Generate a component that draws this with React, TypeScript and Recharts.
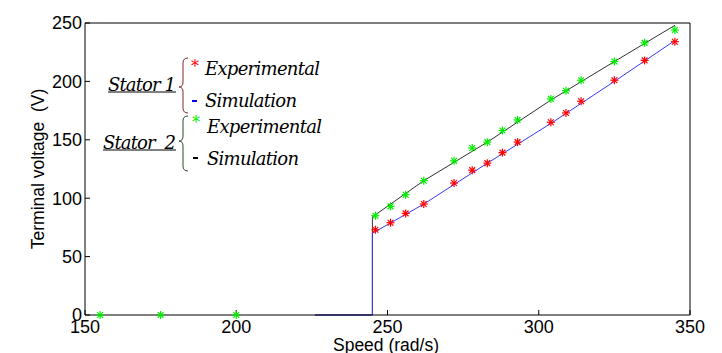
import { LineChart, Line, XAxis, YAxis } from "recharts";

// experimental points (speed in rad/s, terminal voltage in V)
const speedExp = [246, 251, 256, 262, 272, 278, 283, 288, 293, 304, 309, 314, 325, 335, 345];
const stator1Exp = [73, 79, 87, 95, 113, 124, 130, 139, 148, 165, 173, 183, 201, 218, 234];
const stator2Exp = [85, 93, 103, 115, 132, 143, 148, 158, 167, 185, 192, 201, 217, 233, 244];
const speedExpLow = [155, 175, 200];
const stator2ExpLow = [0, 0, 0];

// simulation curves
const speedSim = [226, 245, 245, 262, 283, 304, 325, 345];
const stator1Sim = [0, 0, 70, 95, 130, 164, 200, 235];
const stator2Sim = [0, 0, 84, 115, 148, 184, 217, 248];

const xTicks = [150, 200, 250, 300, 350];
const yTicks = [0, 50, 100, 150, 200, 250];

const zip = (xs: number[], ys: number[]) => xs.map((s, i) => ({ s, v: ys[i] }));

const exp1 = zip(speedExp, stator1Exp);
const exp2 = [...zip(speedExpLow, stator2ExpLow), ...zip(speedExp, stator2Exp)];
const sim1 = zip(speedSim, stator1Sim);
const sim2 = zip(speedSim, stator2Sim);

const SANS = "Liberation Sans, Arial, sans-serif";
const SERIF = "DejaVu Serif, serif";

function Asterisk({ cx, cy, color }: { cx: number; cy: number; color: string }) {
  const r = 4;
  const d = r * 0.72;
  return (
    <g stroke={color} strokeWidth={1.2}>
      <line x1={cx - r} y1={cy} x2={cx + r} y2={cy} />
      <line x1={cx} y1={cy - r} x2={cx} y2={cy + r} />
      <line x1={cx - d} y1={cy - d} x2={cx + d} y2={cy + d} />
      <line x1={cx - d} y1={cy + d} x2={cx + d} y2={cy - d} />
    </g>
  );
}

const starDot = (color: string) => (p: any) =>
  <Asterisk key={`${color}-${p.index}`} cx={p.cx} cy={p.cy} color={color} />;

function Brace({ x, top, mid, bottom, color }: { x: number; top: number; mid: number; bottom: number; color: string }) {
  const d = `M ${x + 5} ${top} Q ${x} ${top} ${x} ${top + 5} L ${x} ${mid - 5} Q ${x} ${mid} ${x - 4} ${mid} Q ${x} ${mid} ${x} ${mid + 5} L ${x} ${bottom - 5} Q ${x} ${bottom} ${x + 5} ${bottom}`;
  return <path d={d} fill="none" stroke={color} strokeWidth={1} />;
}

const legendText = { fontFamily: SERIF, fontStyle: "italic", fontSize: 18, whiteSpace: "pre" } as const;

export default function App() {
  const tickStyle = { fontSize: 18, fill: "#000", fontFamily: SANS };
  return (
    <div style={{ position: "absolute", left: 0, top: 0, width: 722, height: 353, background: "#fff" }}>
      <LineChart width={722} height={353} margin={{ top: 0, right: 0, bottom: 0, left: 0 }}>
        <XAxis
          dataKey="s" type="number" domain={[150, 350]} ticks={xTicks} allowDataOverflow
          height={38} tickSize={-5} tickMargin={10} tick={tickStyle}
          axisLine={{ stroke: "#000" }} tickLine={{ stroke: "#000" }}
        />
        <XAxis
          xAxisId="top" orientation="top" dataKey="s" type="number" domain={[150, 350]} ticks={xTicks}
          height={23} tickSize={-5} tick={false}
          axisLine={{ stroke: "#000" }} tickLine={{ stroke: "#000" }}
        />
        <YAxis
          type="number" domain={[0, 250]} ticks={yTicks} width={85}
          tickSize={-5} tickMargin={8} tick={tickStyle}
          axisLine={{ stroke: "#000" }} tickLine={{ stroke: "#000" }}
        />
        <YAxis
          yAxisId="right" orientation="right" type="number" domain={[0, 250]} ticks={yTicks} width={32}
          tickSize={-5} tick={false}
          axisLine={{ stroke: "#000" }} tickLine={{ stroke: "#000" }}
        />
        <Line data={sim2} dataKey="v" type="linear" stroke="#333" strokeWidth={1} dot={false} isAnimationActive={false} />
        <Line data={sim1} dataKey="v" type="linear" stroke="#3838ff" strokeWidth={1} dot={false} isAnimationActive={false} />
        <Line data={exp1} dataKey="v" stroke="none" dot={starDot("#ff0000")} activeDot={false} isAnimationActive={false} />
        <Line data={exp2} dataKey="v" stroke="none" dot={starDot("#00ee00")} activeDot={false} isAnimationActive={false} />
      </LineChart>

      <svg width={722} height={353} style={{ position: "absolute", left: 0, top: 0, pointerEvents: "none" }}>
        <text
          x={38} y={169} transform="rotate(-90 38 169)" textAnchor="middle" dominantBaseline="central"
          fill="#000" style={{ fontFamily: SANS, fontSize: 17.5, whiteSpace: "pre" }}
        >
          {"Terminal voltage  (V)"}
        </text>
        <text x={386} y={351} textAnchor="middle" fill="#000" style={{ fontFamily: SANS, fontSize: 17.5 }}>
          Speed (rad/s)
        </text>

        <text x={108} y={84} dominantBaseline="central" fill="#000" style={legendText} textLength={68}>{"Stator 1"}</text>
        <line x1={108} y1={92} x2={176} y2={92} stroke="#000" strokeWidth={1} />
        <text x={103} y={142} dominantBaseline="central" fill="#000" style={legendText} textLength={73}>{"Stator  2"}</text>
        <line x1={103} y1={150} x2={176} y2={150} stroke="#000" strokeWidth={1} />

        <text x={205} y={68} dominantBaseline="central" fill="#000" style={legendText} textLength={115}>Experimental</text>
        <text x={205} y={100} dominantBaseline="central" fill="#000" style={legendText} textLength={92}>Simulation</text>
        <text x={207} y={126} dominantBaseline="central" fill="#000" style={legendText} textLength={115}>Experimental</text>
        <text x={207} y={158} dominantBaseline="central" fill="#000" style={legendText} textLength={92}>Simulation</text>

        <text x={191} y={72} fill="#ff0000" style={{ fontFamily: SERIF, fontSize: 16 }}>*</text>
        <line x1={192} y1={101} x2={197} y2={101} stroke="#0000ff" strokeWidth={2} />
        <text x={192} y={128} fill="#00ee00" style={{ fontFamily: SERIF, fontSize: 16 }}>*</text>
        <line x1={193} y1={158} x2={198} y2={158} stroke="#000" strokeWidth={2} />

        <Brace x={183} top={58} mid={87} bottom={113} color="#7a2a2a" />
        <Brace x={183} top={116} mid={141} bottom={171} color="#2a4a2a" />
      </svg>
    </div>
  );
}
